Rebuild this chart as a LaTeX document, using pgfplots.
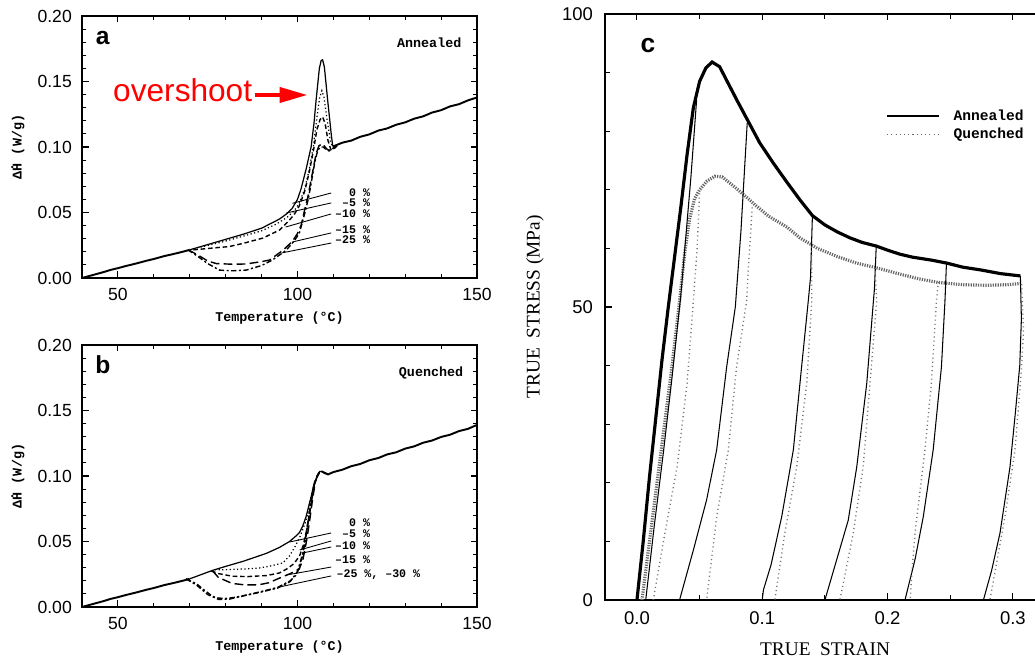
\documentclass[border=0pt]{standalone}
\usepackage{pgfplots}
\pgfplotsset{compat=1.18}
\usepackage{fontspec}
\setmainfont{Liberation Sans}
\newfontfamily\ttb{Liberation Mono}
\newfontfamily\serif{Liberation Serif}
\usetikzlibrary{arrows.meta}

\newcommand{\lab}{\ttb\bfseries\fontsize{6.6}{7}\selectfont}
\newcommand{\axl}{\ttb\bfseries\fontsize{7.6}{9}\selectfont}
\newcommand{\dotH}{\makebox[0pt][l]{\raisebox{0.62em}{.}}H}

\pgfplotsset{
  dsc/.style={
    scale only axis, width=7.9cm, height=5.24cm,
    xmin=40, xmax=150, ymin=0, ymax=0.2,
    xtick={50,100,150}, minor xtick={40,60,70,80,90,110,120,130,140},
    ytick={0,0.05,0.1,0.15,0.2}, minor y tick num=4,
    scaled y ticks=false,
    tick align=inside, major tick length=0.13cm, minor tick length=0.08cm,
    every tick/.style={black, line width=0.6pt},
    axis line style={line width=0.8pt},
    /pgf/number format/assume math mode=true,
    ticklabel style={font=\fontsize{10}{12}\selectfont},
    yticklabel style={/pgf/number format/.cd, fixed, fixed zerofill, precision=2, /tikz/.cd, xshift=-0.08cm},
    xticklabel style={yshift=-0.08cm},
    xlabel={Temperature (°C)},
    ylabel={Δ\dotH{} (W/g)},
    xlabel style={font=\axl, at={(axis description cs:0.5,-0.153)}, anchor=center},
    ylabel style={font=\axl, at={(axis description cs:-0.162,0.5)}, anchor=center},
    clip=false,
  },
  s0/.style={black, line width=0.7pt},
  s5/.style={black, line width=0.7pt, dash pattern=on 0.7pt off 1.4pt},
  s10/.style={black, line width=0.8pt, dash pattern=on 2.6pt off 1.6pt},
  s15/.style={black, line width=0.8pt, dash pattern=on 5pt off 2.4pt},
  s25/.style={black, line width=0.8pt, dash pattern=on 3pt off 1.4pt on 1.2pt off 1.4pt},
  base/.style={black, line width=1.1pt},
}

\begin{document}
\begin{tikzpicture}

%================ panel a =================
\begin{axis}[dsc, at={(1.64cm,7.58cm)}, anchor=south west]
\addplot[base] coordinates {(40,0.000)(42,0.0015)(44,0.003)(46,0.0045)(48,0.0062)(50,0.0075)(52,0.009)(55,0.011)(58,0.0132)(60,0.0145)(63,0.0168)(65,0.018)(68,0.020)(70,0.0215)};
\addplot[s0] coordinates {(70,0.0215)(75,0.0255)(80,0.0295)(85,0.0335)(90,0.038)(95,0.045)(97,0.049)(98.5,0.053)(100,0.060)(101,0.068)(102.4,0.083)(103.8,0.100)(104.6,0.118)(105.2,0.136)(106.1,0.160)(106.6,0.166)(107,0.1665)(107.5,0.161)(108.4,0.136)(109.4,0.110)(109.8,0.101)(110.3,0.0995)(111,0.101)};
\addplot[s5] coordinates {(72,0.023)(75,0.0248)(80,0.0282)(85,0.032)(90,0.036)(94,0.041)(97,0.046)(99,0.051)(100.5,0.057)(102,0.068)(103.3,0.083)(104.4,0.100)(105.3,0.120)(106.2,0.138)(106.8,0.143)(107.4,0.138)(108.3,0.12)(109.2,0.104)(110,0.099)(111,0.101)};
\addplot[s10] coordinates {(71,0.0215)(75,0.0225)(81,0.024)(85,0.0265)(90.4,0.0305)(95,0.0366)(97,0.042)(99,0.048)(100.5,0.055)(102,0.066)(103.3,0.081)(104.5,0.098)(105.4,0.113)(106.3,0.121)(107,0.123)(107.7,0.118)(108.5,0.105)(109.3,0.098)(110.2,0.0985)(111,0.101)};
\addplot[s15] coordinates {(69.5,0.0215)(72,0.018)(75,0.013)(77.4,0.011)(82,0.0105)(85.7,0.0107)(90,0.0125)(92.2,0.0137)(95.9,0.021)(98.6,0.028)(100,0.034)(101,0.040)(102,0.052)(102.9,0.062)(104.3,0.082)(105.2,0.095)(106,0.101)(107,0.1025)(108,0.099)(108.8,0.097)(110,0.099)(111,0.101)};
\addplot[s25] coordinates {(69.5,0.0215)(72,0.017)(75,0.011)(78.3,0.006)(82,0.0055)(85.7,0.006)(90,0.0095)(93,0.0137)(96.8,0.021)(99,0.028)(100.5,0.034)(102,0.049)(103,0.060)(103.8,0.072)(104.8,0.088)(105.6,0.097)(106.3,0.1)(107.2,0.1)(108,0.098)(109,0.0975)(110,0.099)(111,0.101)};
\addplot[base] coordinates {(110,0.1005)(112.5,0.1033)(115,0.1049)(117.5,0.1078)(120,0.1096)(122.5,0.1125)(125,0.1142)(127.5,0.1170)(130,0.1188)(132.5,0.1216)(135,0.1234)(137.5,0.1263)(140,0.1281)(142.5,0.1310)(145,0.1327)(147.5,0.1356)(150,0.1378)};
% leader lines
\draw[black, line width=0.5pt] (axis cs:109.4,0.0649) -- (axis cs:98.6,0.057);
\draw[black, line width=0.5pt] (axis cs:109.4,0.0573) -- (axis cs:96.9,0.0496);
\draw[black, line width=0.5pt] (axis cs:109.4,0.0489) -- (axis cs:96.7,0.0389);
\draw[black, line width=0.5pt] (axis cs:109.4,0.0344) -- (axis cs:98.6,0.0275);
\draw[black, line width=0.5pt] (axis cs:109.4,0.0267) -- (axis cs:95.6,0.0191);
\node[anchor=east, font=\lab, inner sep=0pt] at (axis cs:120.3,0.0649) {0 \%};
\node[anchor=east, font=\lab, inner sep=0pt] at (axis cs:120.3,0.0573) {–5 \%};
\node[anchor=east, font=\lab, inner sep=0pt] at (axis cs:120.3,0.0489) {–10 \%};
\node[anchor=east, font=\lab, inner sep=0pt] at (axis cs:120.3,0.0366) {–15 \%};
\node[anchor=east, font=\lab, inner sep=0pt] at (axis cs:120.3,0.0290) {–25 \%};
\node[font=\bfseries\fontsize{14}{16}\selectfont] at (axis cs:45.8,0.183) {a};
\node[font=\axl] at (axis cs:136.7,0.1794) {Annealed};
\node[anchor=base west, text=red, font=\fontsize{18}{20}\selectfont, inner sep=0pt] at (axis cs:48.6,0.1344) {overshoot};
\draw[red, line width=2.3pt, -{Triangle[length=0.56cm,width=0.3cm]}] (axis cs:88.1,0.1397) -- (axis cs:102.8,0.1397);
\end{axis}

%================ panel b =================
\begin{axis}[dsc, at={(1.64cm,1.0cm)}, anchor=south west]
\addplot[base] coordinates {(40,0.000)(42,0.0015)(44,0.003)(46,0.0045)(48,0.0062)(50,0.0075)(52,0.009)(55,0.011)(58,0.0132)(60,0.0145)(63,0.0168)(65,0.018)(68,0.020)(70,0.0215)};
\addplot[s0] coordinates {(70,0.0215)(76.4,0.028)(80,0.031)(85,0.035)(91.4,0.041)(95,0.0455)(97.8,0.050)(99.5,0.054)(100.6,0.057)(101.5,0.062)(102.4,0.069)(103.8,0.084)(104.7,0.095)(105.6,0.1)(106.2,0.1035)(106.8,0.1035)(107.5,0.102)(108.5,0.1015)};
\addplot[s5] coordinates {(77,0.0285)(80,0.0285)(85,0.029)(89.4,0.0298)(92,0.031)(95.9,0.0336)(97.8,0.039)(99.3,0.046)(100.6,0.053)(101.6,0.060)(102.4,0.066)(103.4,0.079)(104.3,0.090)(105.2,0.098)(106,0.1025)(106.8,0.1035)};
\addplot[s10] coordinates {(76,0.0275)(78,0.0255)(81.8,0.0235)(86,0.0232)(91.4,0.024)(95,0.026)(97,0.029)(99,0.033)(100.6,0.039)(101.6,0.047)(102.5,0.058)(103.3,0.070)(104.2,0.085)(105,0.096)(105.8,0.1015)(106.5,0.1035)};
\addplot[s15] coordinates {(76.4,0.0275)(78,0.0225)(81.8,0.018)(85,0.017)(89,0.0168)(92,0.0185)(95.8,0.023)(98,0.0255)(100.5,0.029)(101.5,0.036)(102.5,0.050)(103.3,0.064)(104.2,0.082)(105,0.096)(105.8,0.102)(106.5,0.1035)};
\addplot[s25] coordinates {(69,0.0215)(72,0.0175)(74,0.013)(76.4,0.008)(78,0.0068)(80,0.0065)(83,0.0075)(87.2,0.010)(91,0.0125)(94.5,0.015)(98,0.020)(99.5,0.024)(100.5,0.030)(101.5,0.040)(102.6,0.058)(103.5,0.075)(104.5,0.091)(105.3,0.099)(106,0.103)(106.8,0.1035)};
\addplot[s25] coordinates {(69,0.0215)(72,0.0165)(75,0.0095)(78,0.0058)(81,0.006)(85,0.0085)(90,0.0115)(94.5,0.0145)(98,0.0195)(100,0.027)(101.5,0.041)(102.6,0.059)(103.5,0.076)(104.5,0.092)(105.5,0.1)(106.5,0.1035)};
\addplot[base] coordinates {(106.8,0.1035)(108.5,0.1012)(110,0.1030)(112.5,0.1048)(115,0.1075)(117.5,0.1092)(120,0.1120)(122.5,0.1137)(125,0.1165)(127.5,0.1181)(130,0.1209)(132.5,0.1226)(135,0.1254)(137.5,0.1271)(140,0.1298)(142.5,0.1315)(145,0.1343)(147.5,0.1360)(150,0.1390)};
\draw[black, line width=0.5pt] (axis cs:109.4,0.0565) -- (axis cs:97.8,0.0496);
\draw[black, line width=0.5pt] (axis cs:109.4,0.0504) -- (axis cs:100.6,0.0435);
\draw[black, line width=0.5pt] (axis cs:109.4,0.0458) -- (axis cs:101.4,0.0412);
\draw[black, line width=0.5pt] (axis cs:109.4,0.0305) -- (axis cs:96.9,0.0244);
\draw[black, line width=0.5pt] (axis cs:109.4,0.0237) -- (axis cs:95.0,0.0153);
\node[anchor=east, font=\lab, inner sep=0pt] at (axis cs:120.3,0.0641) {0 \%};
\node[anchor=east, font=\lab, inner sep=0pt] at (axis cs:120.3,0.0557) {–5 \%};
\node[anchor=east, font=\lab, inner sep=0pt] at (axis cs:120.3,0.0466) {–10 \%};
\node[anchor=east, font=\lab, inner sep=0pt] at (axis cs:120.3,0.0359) {–15 \%};
\node[anchor=west, font=\lab, inner sep=0pt] at (axis cs:110.8,0.0244) {–25 \%, –30 \%};
\node[font=\bfseries\fontsize{14}{16}\selectfont] at (axis cs:45.8,0.1847) {b};
\node[font=\axl] at (axis cs:137.2,0.179) {Quenched};
\end{axis}

%================ panel c =================
\begin{axis}[at={(12.1cm,1.14cm)}, anchor=south west,
  scale only axis, width=8.909cm, height=11.72cm,
  xmin=-0.0255, xmax=0.33, ymin=0, ymax=100,
  xtick={0,0.1,0.2,0.3}, minor xtick={0.05,0.15,0.25},
  ytick={0,50,100}, minor ytick={10,20,30,40,60,70,80,90},
  tick align=inside, major tick length=0.13cm, minor tick length=0.1cm,
  every tick/.style={black, line width=0.6pt},
  axis line style={line width=0.8pt},
  /pgf/number format/assume math mode=true,
  ticklabel style={font=\fontsize{10.5}{12}\selectfont},
  xticklabel style={/pgf/number format/.cd, fixed, fixed zerofill, precision=1, /tikz/.cd, yshift=-0.1cm},
  yticklabel style={xshift=-0.12cm},
  xlabel={TRUE\ \ STRAIN}, ylabel={TRUE\ \ STRESS\ (MPa)},
  xlabel style={font=\serif\fontsize{11}{13}\selectfont, at={(axis description cs:0.494,-0.0836)}, anchor=center},
  ylabel style={font=\serif\fontsize{11}{13}\selectfont, at={(axis description cs:-0.157,0.5)}, anchor=center},
  legend style={draw=none, fill=none, at={(axis cs:0.1987,81.0)}, anchor=west, inner sep=0pt,
     font=\ttb\bfseries\fontsize{8.3}{9}\selectfont, nodes={inner sep=0.05cm}, row sep=0pt,
     /tikz/every odd column/.append style={column sep=0.22cm}},
  legend cell align=left,
  legend image code/.code={\draw[#1] (0cm,0cm) -- (1.04cm,0cm);},
  clip=false,
]
\addplot[black, line width=1.8pt, forget plot] coordinates {(0.0,0)(0.005,10)(0.010,21)(0.015,31)(0.020,41)(0.025,50)(0.030,58.5)(0.035,67)(0.040,76)(0.045,84)(0.050,88.5)(0.055,90.8)(0.060,91.8)(0.066,91)(0.072,88.5)(0.080,85.2)(0.088,82)(0.098,78)(0.109,74.5)(0.12,71.2)(0.13,68.3)(0.14,65.6)(0.15,64)(0.16,62.8)(0.17,61.8)(0.18,61.0)(0.191,60.4)(0.20,59.7)(0.21,59)(0.22,58.5)(0.235,58)(0.247,57.5)(0.26,56.8)(0.275,56.3)(0.29,55.7)(0.306,55.3)};
\addplot[black!60, line width=1.8pt, dash pattern=on 0.7pt off 0.7pt, forget plot] coordinates {(0.004,0)(0.010,10)(0.016,20)(0.022,30)(0.028,40)(0.034,51)(0.038,59)(0.042,65)(0.046,68.5)(0.050,70)(0.056,71.5)(0.062,72.3)(0.068,72.2)(0.075,71)(0.085,69.2)(0.095,67.3)(0.105,65.5)(0.12,63.6)(0.13,61.8)(0.144,60)(0.16,58.6)(0.175,57.5)(0.191,56.7)(0.21,55.6)(0.225,54.8)(0.24,54.2)(0.26,53.8)(0.28,53.7)(0.295,53.8)(0.306,54)};
% annealed unloading
\addplot[black, line width=0.6pt, forget plot] coordinates {(0.0476,85.3)(0.043,72)(0.039,62)(0.035,52)(0.028,38)(0.021,25)(0.014,13)(0.007,0)};
\addplot[black, line width=0.6pt, forget plot] coordinates {(0.088,81.4)(0.083,63)(0.0785,50)(0.0716,39.8)(0.0636,25.6)(0.0556,17.1)(0.045,8.5)(0.034,0)};
\addplot[black, line width=0.6pt, forget plot] coordinates {(0.140,65.4)(0.1385,55)(0.1367,51)(0.1314,39.8)(0.1248,25.6)(0.1155,14.2)(0.107,6)(0.1009,1.7)(0.100,0)};
\addplot[black, line width=0.6pt, forget plot] coordinates {(0.191,60.6)(0.1895,53)(0.1887,51)(0.1834,37)(0.1754,22.7)(0.1686,13.6)(0.1593,6.8)(0.150,0)};
\addplot[black, line width=0.6pt, forget plot] coordinates {(0.247,57.5)(0.2458,51)(0.243,39.8)(0.2364,25.6)(0.2285,14.2)(0.222,7)(0.2139,0)};
\addplot[black, line width=0.6pt, forget plot] coordinates {(0.306,55.3)(0.3068,48)(0.3055,40)(0.302,32)(0.2977,22.7)(0.2897,11.4)(0.283,5)(0.2765,0)};
% quenched unloading
\addplot[black!55, line width=0.8pt, dash pattern=on 0.6pt off 1.8pt, forget plot] coordinates {(0.050,69.4)(0.048,60)(0.045,51)(0.040,37)(0.032,22.7)(0.0223,11.4)(0.013,0)};
\addplot[black!55, line width=0.8pt, dash pattern=on 0.6pt off 1.8pt, forget plot] coordinates {(0.092,67)(0.089,57)(0.0875,51)(0.0795,39.8)(0.0729,25.6)(0.0636,14.2)(0.0556,0)};
\addplot[black!55, line width=0.8pt, dash pattern=on 0.6pt off 1.8pt, forget plot] coordinates {(0.1395,60.3)(0.1395,51)(0.1355,37)(0.1275,22.7)(0.118,11.4)(0.110,0)};
\addplot[black!55, line width=0.8pt, dash pattern=on 0.6pt off 1.8pt, forget plot] coordinates {(0.19,56.7)(0.1913,51)(0.186,37)(0.1805,22.7)(0.1726,11.4)(0.162,0)};
\addplot[black!55, line width=0.8pt, dash pattern=on 0.6pt off 1.8pt, forget plot] coordinates {(0.2405,54.3)(0.239,51)(0.235,37)(0.2298,25.6)(0.2219,11.4)(0.2195,5)(0.218,0)};
\addplot[black!55, line width=0.8pt, dash pattern=on 0.6pt off 1.8pt, forget plot] coordinates {(0.307,53.9)(0.3085,46)(0.307,39.8)(0.3017,25.6)(0.2937,14.2)(0.2817,0)};
\addlegendimage{black, line width=1pt}
\addlegendentry{Annealed}
\addlegendimage{black!60, line width=0.8pt, dash pattern=on 0.6pt off 1.8pt}
\addlegendentry{Quenched}
\node[font=\bfseries\fontsize{15}{17}\selectfont] at (axis cs:0.0088,94.7) {c};
\end{axis}

\pgfresetboundingbox
\path[use as bounding box] (0,0) rectangle (20.7,13.14);
\end{tikzpicture}
\end{document}
